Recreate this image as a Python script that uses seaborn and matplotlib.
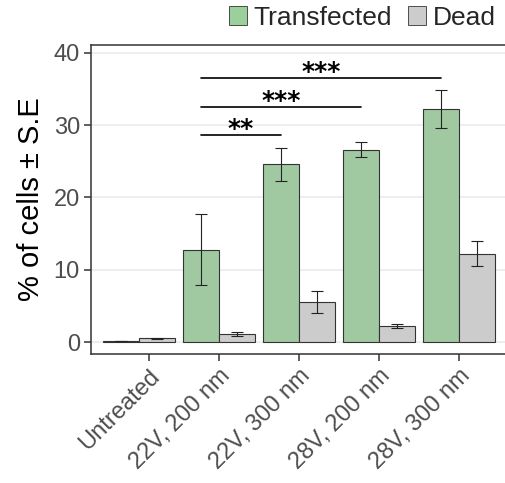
import matplotlib
matplotlib.use("Agg")
import matplotlib.pyplot as plt
import seaborn as sns
import pandas as pd
from matplotlib.patches import Patch

# data
groups = ["Untreated", "22V, 200 nm", "22V, 300 nm", "28V, 200 nm", "28V, 300 nm"]
transfected = [0.1, 12.8, 24.6, 26.6, 32.2]
transfected_se = [0.0, 4.95, 2.3, 1.05, 2.6]
dead = [0.5, 1.05, 5.5, 2.2, 12.2]
dead_se = [0.05, 0.28, 1.55, 0.3, 1.75]

# significance brackets: (from group, to group, y, label)
sig_from = [1, 1, 1]
sig_to = [2, 3, 4]
sig_y = [28.6, 32.5, 36.5]
sig_label = ["**", "***", "***"]

df = pd.DataFrame({
    "group": groups * 2,
    "status": ["Transfected"] * 5 + ["Dead"] * 5,
    "value": transfected + dead,
    "se": transfected_se + dead_se,
})

sns.set_theme(style="white")
plt.rcParams["font.family"] = ["Liberation Sans", "DejaVu Sans"]

palette = {"Transfected": "#9BCF9B", "Dead": "#CCCCCC"}

fig = plt.figure(figsize=(5.06, 4.83), dpi=100)
ax = fig.add_axes([0.18, 0.267, 0.822, 0.64])

ax.yaxis.grid(True, color="#EBEBEB", linewidth=1.2, zorder=0)
ax.set_axisbelow(True)

sns.barplot(data=df, x="group", y="value", hue="status", order=groups,
            hue_order=["Transfected", "Dead"], palette=palette,
            width=0.9, errorbar=None, edgecolor="#333333", linewidth=0.8,
            ax=ax, legend=False, zorder=2)

# error bars at the centres of the bars seaborn drew
bars = [p for p in ax.patches]
for p, (_, row) in zip(bars, df.iterrows()):
    xc = p.get_x() + p.get_width() / 2
    ax.errorbar(xc, row["value"], yerr=row["se"], fmt="none",
                ecolor="#222222", elinewidth=0.8, capsize=4, capthick=0.8, zorder=3)

# significance lines between the transfected bars
green_x = [p.get_x() + p.get_width() / 2 for p in bars[:5]]
for a, b, y, lab in zip(sig_from, sig_to, sig_y, sig_label):
    ax.plot([green_x[a], green_x[b]], [y, y], color="black", linewidth=1.2)
    ax.text((green_x[a] + green_x[b]) / 2, y - 0.15, lab, ha="center", va="baseline",
            fontsize=18, fontweight="bold", color="black", family="DejaVu Sans")

ax.set_xlim(-0.6, 4.6)
ax.set_ylim(-1.66, 41.1)
ax.set_yticks([0, 10, 20, 30, 40])
ax.set_xlabel("")
ax.set_ylabel("% of cells ± S.E", fontsize=21, color="black", labelpad=6)
ax.tick_params(axis="both", direction="out", length=5, width=1.1, color="#333333",
               labelsize=17, labelcolor="#4D4D4D", bottom=True, left=True, pad=3)
# the reference puts the first tick a little right of its group
ax.set_xticks([0.12, 1, 2, 3, 4])
ax.set_xticklabels(groups, rotation=45, ha="right", rotation_mode="anchor")

for s in ax.spines.values():
    s.set_color("#333333")
    s.set_linewidth(1.1)

handles = [Patch(facecolor=palette["Transfected"], edgecolor="#333333", linewidth=0.6),
           Patch(facecolor=palette["Dead"], edgecolor="#333333", linewidth=0.6)]
fig.legend(handles, ["Transfected", "Dead"], loc="center", ncol=2,
           bbox_to_anchor=(0.716, 0.963), frameon=False, fontsize=19,
           handlelength=0.7, handleheight=0.7, columnspacing=0.6, handletextpad=0.25)

fig.savefig("out.png", dpi=100)
